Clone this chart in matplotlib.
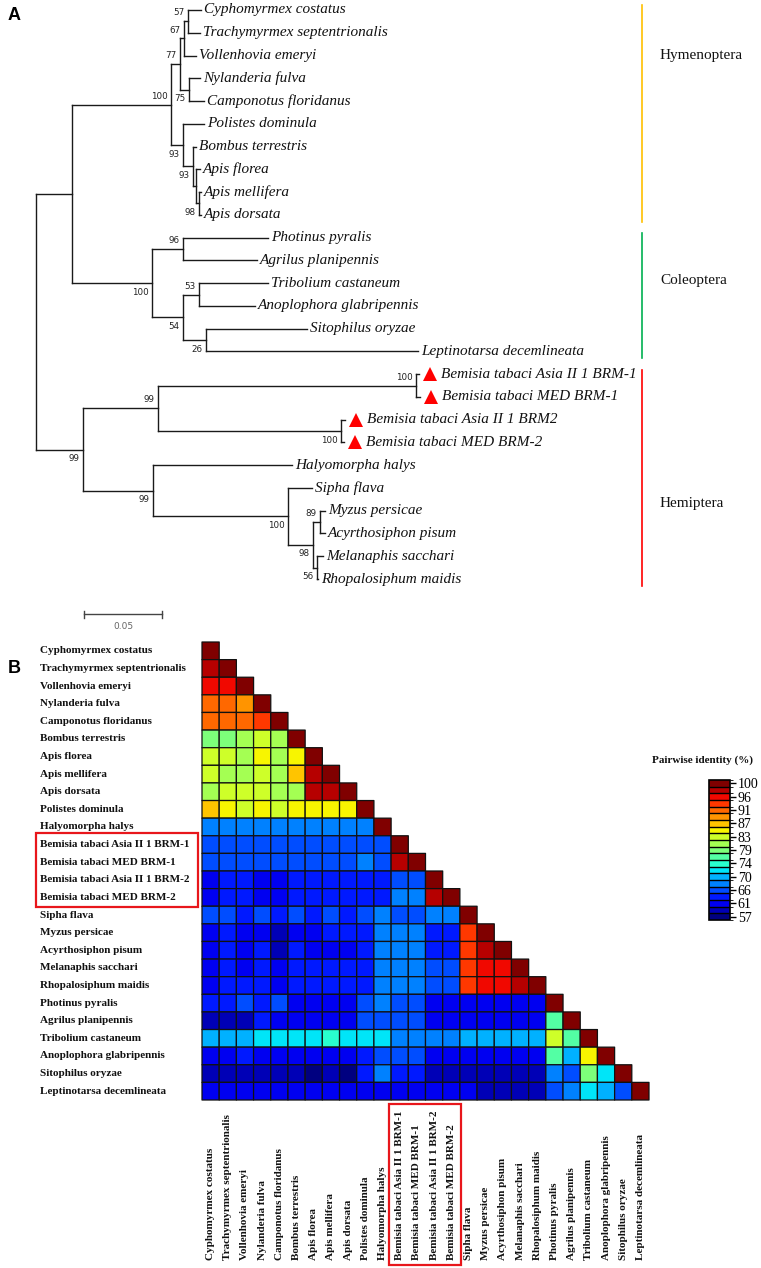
import numpy as np
import matplotlib
matplotlib.use('Agg')
import matplotlib.pyplot as plt
import matplotlib.colorbar as mcolorbar
from matplotlib.colors import ListedColormap, BoundaryNorm
from matplotlib.patches import Rectangle
from matplotlib.transforms import blended_transform_factory

# ---- panel A: tree (branch lengths in substitutions/site, internal labels = bootstrap) ----
NEWICK = ("((((((Cyphomyrmex costatus:0.0083,Trachymyrmex septentrionalis:0.0077)57:0.0026,"
          "Vollenhovia emeryi:0.0077)67:0.0026,(Nylanderia fulva:0.0070,Camponotus floridanus:0.0096)75:0.0057)77:0.0057,"
          "(Polistes dominula:0.0134,(Bombus terrestris:0.0019,(Apis florea:0.0026,(Apis mellifera:0.0013,"
          "Apis dorsata:0.0013)98:0.0019):0.0019)93:0.0064)93:0.0077)100:0.0631,"
          "((Photinus pyralis:0.0542,Agrilus planipennis:0.0472)96:0.0198,((Tribolium castaneum:0.0440,"
          "Anoplophora glabripennis:0.0357)53:0.0102,(Sitophilus oryzae:0.0644,Leptinotarsa decemlineata:0.1352)26:0.0147)54:0.0198)100:0.0510):0.0230,"
          "(((Bemisia tabaci Asia II 1 BRM-1:0.0019,Bemisia tabaci MED BRM-1:0.0026)100:0.1645,"
          "(Bemisia tabaci Asia II 1 BRM2:0.0026,Bemisia tabaci MED BRM-2:0.0019)100:0.1167)99:0.0478,"
          "(Halyomorpha halys:0.0886,(Sipha flava:0.0153,((Myzus persicae:0.0032,Acyrthosiphon pisum:0.0032)89:0.0045,"
          "(Melanaphis sacchari:0.0038,Rhopalosiphum maidis:0.0006)56:0.0026)98:0.0159)100:0.0861)99:0.0446)99:0.0300);")

MARKED = ['Bemisia tabaci Asia II 1 BRM-1', 'Bemisia tabaci MED BRM-1',
          'Bemisia tabaci Asia II 1 BRM2', 'Bemisia tabaci MED BRM-2']

# order name, first leaf, last leaf, colour, row of the label
ORDERS = [('Hymenoptera', 0, 9, '#FFC000', 2.0),
          ('Coleoptera', 10, 15, '#00B050', 11.9),
          ('Hemiptera', 16, 25, '#FF0000', 21.7)]

SCALE = 0.05

# ---- panel B: pairwise identity (%) lower triangle ----
HEAT_NAMES = ['Cyphomyrmex costatus', 'Trachymyrmex septentrionalis', 'Vollenhovia emeryi',
              'Nylanderia fulva', 'Camponotus floridanus', 'Bombus terrestris', 'Apis florea',
              'Apis mellifera', 'Apis dorsata', 'Polistes dominula', 'Halyomorpha halys',
              'Bemisia tabaci Asia II 1 BRM-1', 'Bemisia tabaci MED BRM-1',
              'Bemisia tabaci Asia II 1 BRM-2', 'Bemisia tabaci MED BRM-2', 'Sipha flava',
              'Myzus persicae', 'Acyrthosiphon pisum', 'Melanaphis sacchari', 'Rhopalosiphum maidis',
              'Photinus pyralis', 'Agrilus planipennis', 'Tribolium castaneum',
              'Anoplophora glabripennis', 'Sitophilus oryzae', 'Leptinotarsa decemlineata']

IDENTITY = [
    [100],
    [97.8, 100],
    [95.5, 95.9, 100],
    [91.4, 91.2, 89.3, 100],
    [91.3, 91.6, 91.0, 93.6, 100],
    [78.6, 78.4, 80.7, 82.9, 81.5, 100],
    [82.5, 82.6, 81.4, 84.8, 81.0, 85.3, 100],
    [82.8, 81.5, 81.2, 83.0, 81.0, 86.5, 98.0, 100],
    [81.3, 83.2, 82.3, 83.0, 81.0, 81.5, 98.0, 97.8, 100],
    [86.3, 84.8, 83.3, 85.3, 82.2, 85.4, 84.6, 85.5, 84.7, 100],
    [67.9, 67.5, 67.2, 67.8, 68.6, 67.3, 67.5, 67.8, 67.0, 68.0, 100],
    [65.3, 65.6, 64.9, 65.7, 65.5, 65.8, 65.6, 65.2, 65.5, 66.5, 65.2, 100],
    [65.2, 65.8, 65.3, 66.2, 66.0, 66.0, 65.6, 65.7, 65.5, 67.8, 65.0, 98.5, 100],
    [61.8, 64.2, 62.6, 61.5, 61.8, 63.2, 63.0, 63.2, 62.8, 63.8, 63.3, 66.3, 66.6, 100],
    [61.8, 64.2, 62.6, 61.5, 61.8, 62.8, 63.0, 62.7, 62.6, 63.8, 63.8, 68.0, 68.2, 98.5, 100],
    [65.0, 65.2, 64.4, 66.0, 62.6, 65.0, 64.3, 64.8, 63.8, 65.4, 67.5, 66.0, 66.3, 67.0, 67.5, 100],
    [61.8, 63.0, 61.8, 61.8, 60.0, 61.8, 62.2, 62.8, 62.8, 63.0, 67.2, 67.2, 67.8, 62.6, 63.6, 93.0, 100],
    [61.8, 63.6, 62.4, 63.6, 60.0, 62.5, 62.4, 62.4, 61.8, 63.0, 67.8, 67.8, 67.8, 62.6, 63.2, 93.9, 97.8, 100],
    [61.8, 64.0, 62.4, 64.0, 61.2, 62.5, 62.5, 62.5, 62.5, 63.6, 67.8, 67.2, 67.8, 65.8, 65.8, 93.0, 95.8, 95.8, 100],
    [61.8, 63.6, 63.6, 63.6, 61.8, 62.5, 62.5, 62.5, 62.5, 63.6, 67.8, 67.2, 68.2, 66.3, 65.8, 93.3, 96.6, 96.6, 97.9, 100],
    [62.6, 62.6, 65.3, 64.2, 64.8, 61.8, 61.8, 62.3, 62.3, 64.8, 68.8, 65.3, 64.8, 61.8, 61.8, 61.8, 61.2, 61.2, 61.2, 61.8, 100],
    [59.5, 59.5, 59.8, 62.6, 61.8, 61.8, 62.4, 61.8, 61.8, 65.8, 66.3, 66.3, 65.3, 62.4, 62.4, 61.8, 62.4, 61.8, 61.8, 61.8, 76.4, 100],
    [70.5, 71.0, 70.2, 72.3, 72.5, 72.5, 72.3, 74.3, 72.8, 73.0, 72.6, 68.3, 68.7, 67.8, 68.7, 70.3, 70.0, 69.5, 70.0, 70.4, 82.5, 76.3, 100],
    [61.8, 61.8, 62.6, 61.8, 62.4, 61.8, 61.8, 61.8, 61.8, 64.3, 65.9, 65.0, 65.4, 61.8, 61.8, 61.8, 61.0, 60.6, 60.6, 61.0, 76.4, 69.5, 85.0, 100],
    [59.2, 59.2, 59.2, 60.0, 60.0, 59.5, 58.0, 58.4, 58.1, 63.5, 67.0, 62.6, 62.6, 60.0, 60.0, 60.0, 60.0, 59.5, 59.5, 59.2, 68.7, 65.9, 78.0, 72.0, 100],
    [61.5, 61.5, 61.5, 61.0, 61.0, 61.5, 61.5, 61.5, 61.5, 60.8, 62.4, 61.8, 61.8, 60.8, 60.8, 60.4, 59.5, 59.5, 59.0, 59.0, 66.4, 68.7, 72.5, 69.3, 65.9, 100],
]
BOXED = (11, 14)  # the Bemisia rows / columns
CBAR_LEVELS = np.linspace(57.142857, 100, 21)
CBAR_TICK_LABELS = ['57', '61', '66', '70', '74', '79', '83', '87', '91', '96', '100']

SERIF = 'Liberation Serif'
W, H = 761, 1268
fig = plt.figure(figsize=(W / 100, H / 100), dpi=100)


def parse(s):
    pos = 0

    def node():
        nonlocal pos
        kids = []
        if s[pos] == '(':
            pos += 1
            kids.append(node())
            while s[pos] == ',':
                pos += 1
                kids.append(node())
            pos += 1
        start = pos
        while s[pos] not in ':,);':
            pos += 1
        label = s[start:pos]
        length = 0.0
        if s[pos] == ':':
            pos += 1
            start = pos
            while s[pos] not in ',);':
                pos += 1
            length = float(s[start:pos])
        return {'label': label, 'len': length, 'children': kids}
    return node()


tree = parse(NEWICK)
leaves = []


def place(n, x0):
    n['x'] = x0 + n['len']
    if not n['children']:
        n['y'] = len(leaves)
        leaves.append(n)
    else:
        for c in n['children']:
            place(c, n['x'])
        n['y'] = (n['children'][0]['y'] + n['children'][-1]['y']) / 2


place(tree, 0.0)

# tree axes: 1 unit = 1568 px, one leaf = 22.76 px
PX, ROW = 1568.0, 22.76
ax = fig.add_axes([0, 1 - 640 / H, 1, 640 / H])
ax.set_xlim(-36 / PX, (W - 36) / PX)
ax.set_ylim((640 - 10) / ROW, -10 / ROW)
ax.axis('off')

LC = '#1a1a1a'


def draw(n):
    if not n['children']:
        return
    ys = [c['y'] for c in n['children']]
    ax.plot([n['x'], n['x']], [min(ys), max(ys)], color=LC, lw=1.0, solid_capstyle='projecting')
    for i, c in enumerate(n['children']):
        ax.plot([n['x'], c['x']], [c['y'], c['y']], color=LC, lw=1.0, solid_capstyle='projecting')
        if c['children']:
            if c['label']:
                dy = -0.37 if i == 0 else 0.40
                ax.text(c['x'] - 3.5 / PX, c['y'] + dy, c['label'], ha='right', va='center',
                        fontsize=6.3, family='DejaVu Sans', color='#222')
            draw(c)
        else:
            if c['label'] in MARKED:
                ax.plot(c['x'] + 11 / PX, c['y'], marker='^', color='red', ms=10.5, mew=0)
                tx = c['x'] + 22 / PX
            else:
                tx = c['x'] + 3 / PX
            ax.text(tx, c['y'], c['label'], ha='left', va='center', fontsize=11,
                    style='italic', family=SERIF, color='#111')


draw(tree)

bar_x = (642 - 36) / PX
for name, a, b, col, ly in ORDERS:
    ax.plot([bar_x, bar_x], [a - 0.2, b + 0.3], color=col, lw=1.2)
    ax.text((660 - 36) / PX, ly, name, ha='left', va='center', fontsize=11, family=SERIF, color='#111')

sb_x0, sb_y = (84 - 36) / PX, 26.55
ax.plot([sb_x0, sb_x0 + SCALE], [sb_y, sb_y], color='#444', lw=1.0)
for xx in (sb_x0, sb_x0 + SCALE):
    ax.plot([xx, xx], [sb_y - 0.15, sb_y + 0.15], color='#444', lw=1.0)
ax.text(sb_x0 + SCALE / 2, sb_y + 0.55, f'{SCALE:.2f}', ha='center', va='center',
        fontsize=6.5, family='DejaVu Sans', color='#666')

# ---- heatmap ----
n = len(HEAT_NAMES)
M = np.full((n, n), np.nan)
for i, row in enumerate(IDENTITY):
    M[i, :len(row)] = row
M = np.ma.masked_invalid(M)

step = CBAR_LEVELS[1] - CBAR_LEVELS[0]
bounds = np.concatenate([CBAR_LEVELS - step / 2, [CBAR_LEVELS[-1] + step / 2]])
cmap = ListedColormap(plt.cm.jet(np.linspace(0, 1, len(CBAR_LEVELS))))
norm = BoundaryNorm(bounds, cmap.N)

hx = fig.add_axes([202 / W, 1 - 1100 / H, 447 / W, 458 / H])
mesh = hx.pcolor(np.arange(n + 1), np.arange(n + 1), M, cmap=cmap, norm=norm,
                 edgecolors='#111', linewidth=0.9)
mesh.set_clip_on(False)
hx.set_xlim(0, n)
hx.set_ylim(n, 0)
hx.axis('off')

row_tr = blended_transform_factory(fig.transFigure, hx.transData)
col_tr = blended_transform_factory(hx.transData, fig.transFigure)
for i, name in enumerate(HEAT_NAMES):
    hx.text(40 / W, i + 0.5, name, transform=row_tr, ha='left', va='center',
            fontsize=8, fontweight='bold', family=SERIF, color='#111')
    hx.text(i + 0.5, 8 / H, name, transform=col_tr, rotation=90, ha='center', va='bottom',
            fontsize=8, fontweight='bold', family=SERIF, color='#111')

b0, b1 = BOXED
hx.add_patch(Rectangle((36 / W, b0 - 0.15), 162 / W, b1 - b0 + 1.2, transform=row_tr,
                       fill=False, ec='#E8161B', lw=1.6, clip_on=False))
hx.add_patch(Rectangle((b0 - 0.1, 1 - 1265 / H), b1 - b0 + 1.15, 161 / H, transform=col_tr,
                       fill=False, ec='#E8161B', lw=1.6, clip_on=False))

cax = fig.add_axes([709 / W, 1 - 920 / H, 21 / W, 140 / H])
cb = mcolorbar.ColorbarBase(cax, cmap=cmap, norm=norm, boundaries=bounds,
                            ticks=CBAR_LEVELS[::2], drawedges=True)
cb.set_ticklabels(CBAR_TICK_LABELS)
cb.outline.set_linewidth(1.2)
cb.dividers.set_linewidth(1.0)
cax.tick_params(length=4, width=1, pad=1.5, labelsize=10)
for t in cax.get_yticklabels():
    t.set_family(SERIF)
fig.text(703 / W, 1 - 760 / H, 'Pairwise identity (%)', ha='center', va='center',
         fontsize=8, fontweight='bold', family=SERIF, color='#111')

fig.text(8 / W, 1 - 16 / H, 'A', ha='left', va='center', fontsize=13, fontweight='bold',
         family='Liberation Sans')
fig.text(8 / W, 1 - 668 / H, 'B', ha='left', va='center', fontsize=13, fontweight='bold',
         family='Liberation Sans')

fig.savefig('out.png', dpi=100)
